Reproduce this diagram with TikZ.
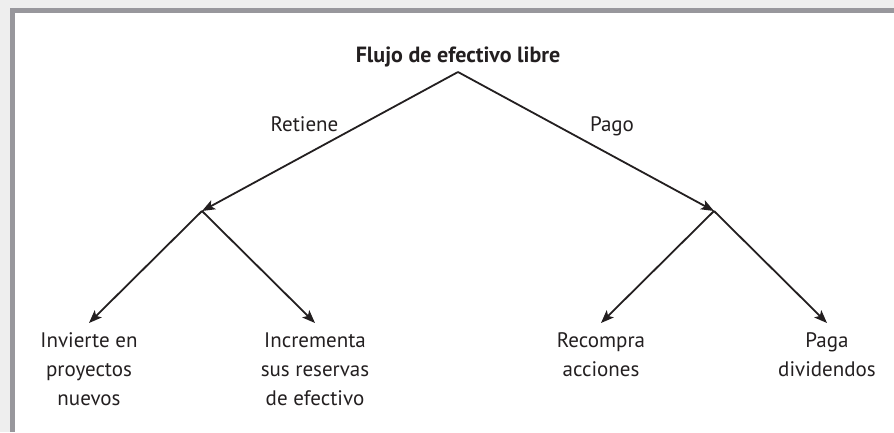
\documentclass[tikz,border=0pt]{standalone}
\usepackage{fontspec}
\setmainfont{PT Sans}
\usetikzlibrary{arrows.meta}
\definecolor{ink}{HTML}{231F20}
\definecolor{bandgray}{HTML}{98979C}
\definecolor{bggray}{HTML}{EEEEEE}
\begin{document}
\begin{tikzpicture}[x=1pt,y=-1pt,
  arr/.style={draw=ink,line width=1.8pt,-{Stealth[length=13pt,width=10pt,inset=3pt]}},
  lbl/.style={text=ink,font=\fontsize{21}{29}\selectfont,inner sep=0pt},
  leaf/.style={lbl,align=center,anchor=north,inner xsep=0pt,inner ysep=9.3pt}]
\useasboundingbox (0,0) rectangle (894,432);
\fill[bggray] (0,0) rectangle (894,432);
\fill[bandgray] (10,8) rectangle (894,432);
\fill[white] (15,13) rectangle (894,432);
\node[lbl,font=\bfseries\fontsize{22}{29}\selectfont,anchor=base] (T) at (458,62) {Flujo de efectivo libre};
\coordinate (apex) at (458,72);
\coordinate (jL) at (202,211);
\coordinate (jR) at (714,211);
\node[lbl,anchor=base] (ret) at (304.5,131.5) {Retiene};
\node[lbl,anchor=base] (pago) at (612,131.5) {Pago};
\node[leaf] (A) at (89,323) {Invierte en\\proyectos\\nuevos};
\node[leaf] (B) at (315,323) {Incrementa\\sus reservas\\de efectivo};
\node[leaf] (C) at (601,323) {Recompra\\acciones};
\node[leaf] (D) at (827,323) {Paga\\dividendos};
\draw[arr] (apex) -- (jL);
\draw[arr] (apex) -- (jR);
\draw[arr] (jL) -- (A.north);
\draw[arr] (jL) -- (B.north);
\draw[arr] (jR) -- (C.north);
\draw[arr] (jR) -- (D.north);
\end{tikzpicture}
\end{document}
